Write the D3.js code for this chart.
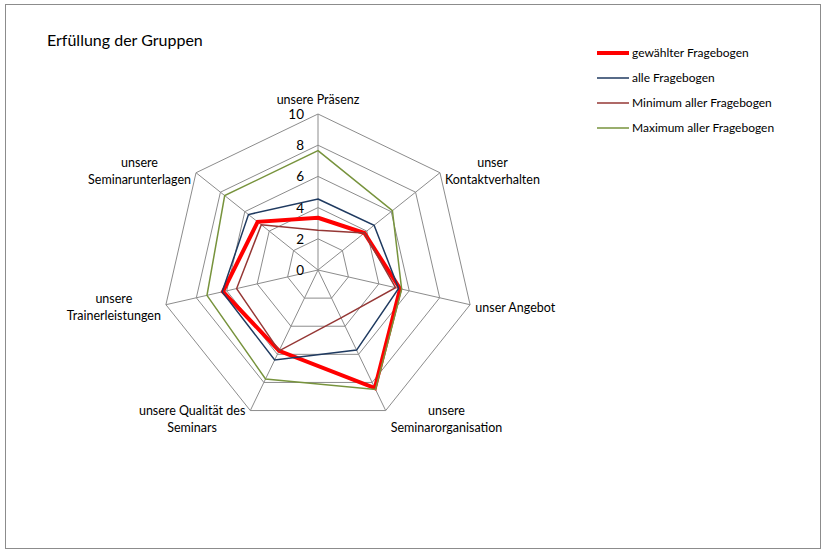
<!doctype html>
<html>
  <head>
    <script src="https://cdnjs.cloudflare.com/ajax/libs/d3/7.8.5/d3.min.js"></script>
    <style>
      body { margin: 0; background: #fff; }
      text { font-family: Lato, "Open Sans", sans-serif; fill: #000; }
    </style>
  </head>
  <body>
    <svg width="822" height="551"></svg>

    <script>
        // categories (axis labels, split into lines as in the chart)
        var categories = [
            ["unsere Präsenz"],
            ["unser", "Kontaktverhalten"],
            ["unser Angebot"],
            ["unsere", "Seminarorganisation"],
            ["unsere Qualität des", "Seminars"],
            ["unsere", "Trainerleistungen"],
            ["unsere", "Seminarunterlagen"]
        ];
        var gewaehlt = [3.35, 3.8, 5.4, 8.4, 5.75, 6.25, 4.95];
        var alle     = [4.55, 4.6, 5.3, 5.7, 6.4, 6.3, 5.7];
        var minimum  = [2.55, 3.8, 5.1, 3.4, 5.75, 5.35, 4.65];
        var maximum  = [7.65, 6.1, 5.5, 8.5, 7.75, 7.3, 7.65];
        var ticks = [0, 2, 4, 6, 8, 10];
        var seriesNames = ["gewählter Fragebogen", "alle Fragebogen", "Minimum aller Fragebogen", "Maximum aller Fragebogen"];

        var series = [
            {name: seriesNames[0], values: gewaehlt, color: "#ff0000", width: 4},
            {name: seriesNames[1], values: alle, color: "#1f3a60", width: 1.5},
            {name: seriesNames[2], values: minimum, color: "#953735", width: 1.5},
            {name: seriesNames[3], values: maximum, color: "#77933c", width: 1.5}
        ];

        var svg = d3.select("svg");
        var cx = 318, cy = 270;
        var n = categories.length;

        var r = d3.scaleLinear().domain([0, 10]).range([0, 156]);
        var angle = d3.scaleLinear().domain([0, n]).range([0, 2 * Math.PI]);

        // outer frame
        svg.append("rect")
            .attr("x", 5.5).attr("y", 4.5)
            .attr("width", 815).attr("height", 544)
            .attr("fill", "none").attr("stroke", "#8c8c8c");

        svg.append("text")
            .attr("x", 47).attr("y", 46)
            .style("font-size", "16px")
            .text("Erfüllung der Gruppen");

        var g = svg.append("g").attr("transform", "translate(" + cx + "," + cy + ")");

        var radial = d3.lineRadial()
            .angle((d, i) => angle(i))
            .radius(d => r(d))
            .curve(d3.curveLinearClosed);

        // grid rings
        g.selectAll(".ring")
            .data(ticks.slice(1))
            .enter().append("path")
            .attr("d", t => radial(d3.range(n).map(() => t)))
            .attr("fill", "none")
            .attr("stroke", "#8c8c8c")
            .attr("stroke-width", 1);

        // spokes
        g.selectAll(".spoke")
            .data(d3.range(n))
            .enter().append("line")
            .attr("x1", 0).attr("y1", 0)
            .attr("x2", i => r(10) * Math.sin(angle(i)))
            .attr("y2", i => -r(10) * Math.cos(angle(i)))
            .attr("stroke", "#8c8c8c")
            .attr("stroke-width", 1);

        // tick labels
        g.selectAll(".tick")
            .data(ticks)
            .enter().append("text")
            .attr("x", -14)
            .attr("y", t => -r(t) + 5)
            .attr("text-anchor", "end")
            .style("font-size", "13.5px")
            .text(t => t);

        // series
        g.selectAll(".series")
            .data(series)
            .enter().append("path")
            .attr("d", s => radial(s.values))
            .attr("fill", "none")
            .attr("stroke", s => s.color)
            .attr("stroke-width", s => s.width)
            .attr("stroke-linejoin", "miter");

        // axis labels
        categories.forEach(function(lines, i) {
            var a = angle(i);
            var vx = r(10) * Math.sin(a), vy = -r(10) * Math.cos(a);
            var lab = g.append("text").style("font-size", "12.5px").attr("text-anchor", "middle");
            lines.forEach(function(l, j) {
                lab.append("tspan").attr("x", 0).attr("y", j * 17).text(l);
            });
            var b = lab.node().getBBox();
            var tx, ty;
            if (Math.abs(vx) < 1) {
                tx = vx;
                ty = vy - 10 - (lines.length - 1) * 17;
            } else {
                tx = vx > 0 ? vx + 5 + b.width / 2 : vx - 5 - b.width / 2;
                var blockMid = (lines.length - 1) * 17 / 2 - 4;
                var c = Math.cos(a);
                ty = vy - blockMid + (c < -0.5 ? 9 : (c > 0.5 ? -1 : 3));
            }
            lab.attr("transform", "translate(" + tx + "," + ty + ")");
        });

        // legend
        var leg = svg.append("g").attr("transform", "translate(597,53)");
        var items = leg.selectAll(".item")
            .data(series)
            .enter().append("g")
            .attr("transform", (d, i) => "translate(0," + i * 25 + ")");
        items.append("line")
            .attr("x1", 0).attr("x2", 32)
            .attr("stroke", d => d.color)
            .attr("stroke-width", d => d.width);
        items.append("text")
            .attr("x", 35).attr("y", 4)
            .style("font-size", "12px")
            .text(d => d.name);
    </script>
  </body>
</html>
